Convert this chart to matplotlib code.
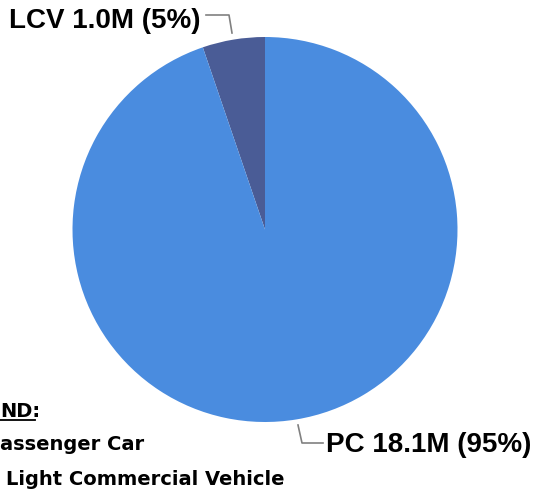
import matplotlib.pyplot as plt

# datos del grafico
categorias = ["LCV", "PC"]
valores = [1.0, 18.1]          # millones
porcentajes = [5, 95]
colores = ["#4a5c96", "#4a8cdf"]
# solo la parte visible de la leyenda (en la imagen esta cortada a la izquierda)
leyenda = ["ND:", "assenger Car", "Light Commercial Vehicle"]

W, H = 539, 496
fig = plt.figure(figsize=(W / 100, H / 100), dpi=100)
ax = fig.add_axes([0, 0, 1, 1])

# pie en coordenadas de pixel (y hacia arriba)
cx, cy, r = 265, H - 229.5, 192.5
ax.pie(valores, colors=colores, startangle=90, counterclock=True,
       center=(cx, cy), radius=r, frame=True,
       wedgeprops=dict(linewidth=0))
ax.set_xlim(0, W)
ax.set_ylim(0, H)
ax.set_aspect("equal")
ax.axis("off")

lab_font = dict(family="Liberation Sans", weight="bold", size=20, color="black")
txt_lcv = f"{categorias[0]} {valores[0]:.1f}M ({porcentajes[0]}%)"
txt_pc = f"{categorias[1]} {valores[1]:.1f}M ({porcentajes[1]}%)"
ax.text(9, H - 28, txt_lcv, va="baseline", ha="left", **lab_font)
ax.text(326, H - 452, txt_pc, va="baseline", ha="left", **lab_font)

# lineas guia
gris = "#808080"
ax.plot([206, 229, 232], [H - 15, H - 15, H - 33], color=gris, lw=1.2)
ax.plot([298, 302, 323], [H - 425, H - 443, H - 443], color=gris, lw=1.2)

# leyenda
leg_font = dict(family="DejaVu Sans", weight="bold", size=14, color="black")
ax.text(0, H - 417, leyenda[0], va="baseline", ha="left", **leg_font)
ax.plot([0, 35], [H - 420, H - 420], color="black", lw=1.3)
ax.text(0, H - 450, leyenda[1], va="baseline", ha="left", **leg_font)
ax.text(6, H - 485, leyenda[2], va="baseline", ha="left", **leg_font)

fig.savefig("out.png", dpi=100)
